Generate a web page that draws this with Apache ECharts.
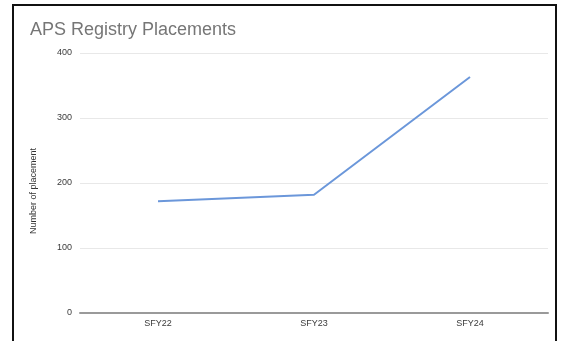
<!DOCTYPE html>
<html>
<head>
<meta charset="utf-8">
<script src="https://cdn.jsdelivr.net/npm/echarts@6/dist/echarts.min.js"></script>
<style>
html,body{margin:0;padding:0;background:#fff;}
#wrap{position:relative;width:564px;height:341px;overflow:hidden;}
#frame{position:absolute;left:12px;top:4px;width:545px;height:400px;border:2px solid #111;box-sizing:border-box;}
#chart{position:absolute;left:0;top:0;width:564px;height:341px;}
</style>
</head>
<body>
<div id="wrap">
<div id="frame"></div>
<div id="chart"></div>
</div>
<script>
var categories = ['SFY22', 'SFY23', 'SFY24'];
var placements = [172, 182, 363];
var yTicks = [0, 100, 200, 300, 400];

var chart = echarts.init(document.getElementById('chart'), null, {renderer: 'canvas'});
chart.setOption({
  animation: false,
  backgroundColor: 'transparent',
  title: {
    text: 'APS Registry Placements',
    left: 25, top: 16,
    textStyle: {fontFamily: 'Liberation Sans, Arial, sans-serif', fontSize: 18, fontWeight: 'normal', color: '#767676'}
  },
  grid: {left: 80, right: 16, top: 53, bottom: 28, containLabel: false},
  xAxis: {
    type: 'category',
    data: categories,
    boundaryGap: true,
    axisLine: {lineStyle: {color: '#9a9a9a', width: 2}},
    axisTick: {show: false},
    axisLabel: {fontFamily: 'Liberation Sans, Arial, sans-serif', fontSize: 9, color: '#3a3a3a', margin: 6}
  },
  yAxis: {
    type: 'value',
    min: yTicks[0], max: yTicks[yTicks.length - 1], interval: 100,
    name: 'Number of placement',
    nameLocation: 'middle',
    nameGap: 42,
    nameTextStyle: {fontFamily: 'Liberation Sans, Arial, sans-serif', fontSize: 9, color: '#333', padding: [0, 16, 0, 0]},
    axisLine: {show: false},
    axisTick: {show: false},
    axisLabel: {fontFamily: 'Liberation Sans, Arial, sans-serif', fontSize: 9, color: '#3a3a3a', margin: 8},
    splitLine: {lineStyle: {color: '#e8e8e8', width: 1}}
  },
  series: [{
    type: 'line',
    data: placements,
    showSymbol: false,
    symbol: 'none',
    lineStyle: {color: '#6b97da', width: 2},
    itemStyle: {color: '#6b97da'}
  }]
});
</script>
</body>
</html>
